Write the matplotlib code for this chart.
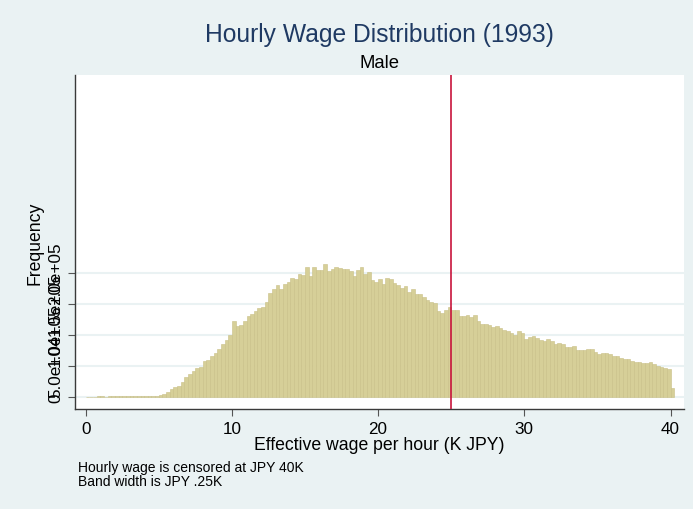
import numpy as np
import matplotlib
matplotlib.use('Agg')
import matplotlib.pyplot as plt

plt.rcParams['font.family'] = ['Liberation Sans', 'DejaVu Sans']

# histogram of hourly wage, bins of 0.25K starting at 0
bin_width = 0.25
counts = [
    0, 0, 0, 1500, 1500, 0, 1200, 1300, 1300, 1400,
    1500, 1500, 1600, 1600, 1800, 1800, 2700, 1800, 2000, 2300,
    4000, 5500, 8500, 12500, 16500, 17500, 24000, 32000, 38000, 43000,
    47000, 49000, 58000, 60000, 66000, 71000, 78000, 85000, 92000, 100000,
    123000, 114000, 117000, 123000, 130000, 134000, 139000, 143000, 145000, 154000,
    168000, 174000, 181000, 175000, 182000, 186000, 192000, 191000, 199000, 197000,
    210000, 195000, 209000, 205000, 205000, 214000, 204000, 207000, 209000, 208000,
    206000, 206000, 203000, 195000, 205000, 210000, 198000, 202000, 188000, 186000,
    190000, 182000, 192000, 190000, 184000, 181000, 176000, 179000, 170000, 175000,
    166000, 166000, 161000, 157000, 153000, 152000, 139000, 135000, 140000, 145000,
    140000, 140000, 131000, 131000, 132000, 129000, 132000, 123000, 118000, 118000,
    116000, 113000, 115000, 111000, 109000, 107000, 104000, 100000, 106000, 104000,
    94000, 97000, 98000, 96000, 92000, 91000, 94000, 90000, 86000, 88000,
    85000, 81000, 81000, 83000, 76000, 76000, 76000, 77000, 78000, 73000,
    70000, 72000, 71000, 70000, 67000, 66000, 63000, 62000, 62000, 58000,
    57000, 57000, 55000, 55000, 56000, 53000, 51000, 49000, 47000, 45000,
    15000,
]
cutoff = 25
xticks = [0, 10, 20, 30, 40]
yticks = [0, 50000, 100000, 150000, 200000]
ytick_labels = ['0', '5.0e+04', '1.0e+05', '1.5e+05', '2.0e+05']

bg = '#eaf2f3'
fig = plt.figure(figsize=(6.93, 5.10), dpi=100, facecolor=bg)
ax = fig.add_axes([75 / 693, 100 / 510, 609 / 693, 334 / 510])
ax.set_facecolor('white')

edges = np.arange(len(counts)) * bin_width
ax.bar(edges, counts, width=bin_width, align='edge', color='#d6cf98',
       edgecolor='#c8bf86', linewidth=0.4, zorder=2)
ax.axvline(cutoff, color='#c8143c', linewidth=1.2, zorder=3)

ax.set_xlim(-0.73, 40.92)
ax.set_ylim(-19000, 519000)
ax.set_xticks(xticks)
ax.set_yticks(yticks)
ax.set_yticklabels(ytick_labels, rotation=90, va='center', ha='right')
ax.yaxis.grid(True, color=bg, linewidth=1.5, zorder=0)
ax.set_axisbelow(True)

for s in ['top', 'right']:
    ax.spines[s].set_visible(False)
for s in ['left', 'bottom']:
    ax.spines[s].set_color('#3a3a3a')
    ax.spines[s].set_linewidth(1.0)

ax.tick_params(axis='both', direction='out', length=5, color='#555555',
               labelsize=12.3, pad=3.5)

cx = 379.5 / 693
fig.text(cx, 1 - 35 / 510, 'Hourly Wage Distribution (1993)', ha='center', va='center',
         fontsize=17.7, color='#1f3a63')
fig.text(cx, 1 - 63 / 510, 'Male', ha='center', va='center', fontsize=13.3)
fig.text(cx, 1 - 446 / 510, 'Effective wage per hour (K JPY)', ha='center', va='center',
         fontsize=12.7)
fig.text(35 / 693, 1 - 243 / 510, 'Frequency', rotation=90, ha='center', va='center',
         fontsize=12.7)
fig.text(78 / 693, 1 - 468.5 / 510, 'Hourly wage is censored at JPY 40K', ha='left',
         va='center', fontsize=10)
fig.text(78 / 693, 1 - 482 / 510, 'Band width is JPY .25K', ha='left',
         va='center', fontsize=10)

fig.savefig('out.png', dpi=100, facecolor=bg)
